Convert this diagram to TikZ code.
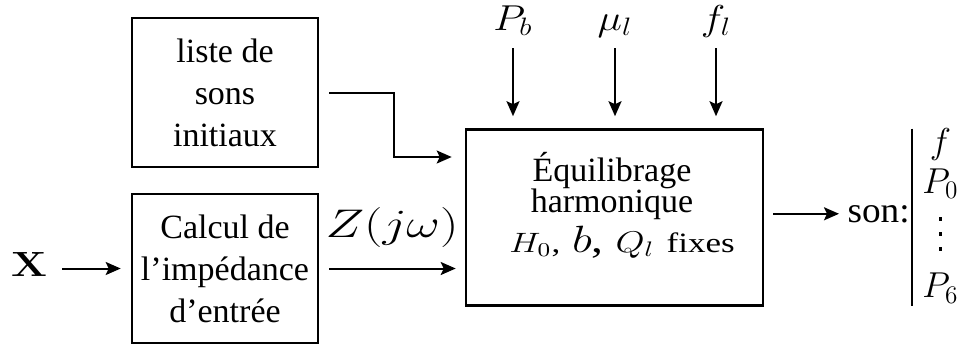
\documentclass[tikz,border=0pt]{standalone}
\usepackage{fix-cm}
\usepackage[no-math]{fontspec}
\setmainfont{Liberation Serif}
\usetikzlibrary{arrows.meta,positioning}

\newcommand\bigvdots{\vbox{\baselineskip7.5pt\lineskiplimit0pt\kern6pt\hbox{\rule{1.9pt}{1.9pt}}\hbox{\rule{1.9pt}{1.9pt}}\hbox{\rule{1.9pt}{1.9pt}}}\rule[-9.5pt]{0pt}{9.5pt}}

\begin{document}
\begin{tikzpicture}[
        x=0.5pt, y=-0.5pt,
        node distance=88pt,
        box/.style={draw, line width=1.3pt, align=center, inner sep=0pt, minimum width=93pt, minimum height=74.5pt, font=\fontsize{17}{21}\selectfont},
        lbl/.style={inner sep=2pt, xscale=1.15, font=\fontsize{18}{20}\selectfont},
        arrow/.style={-{Stealth[length=7.5pt,width=6.5pt,inset=1.5pt]}, line width=1pt}
      ]
        \useasboundingbox (0,0) rectangle (962,350);
        \node[box] (liste) at (225,92.5) {liste de\\ sons\\ initiaux};
        \node[box] (calc)  [below of=liste] {Calcul de\\ l'impédance\\ d'entrée};
        \node[box, minimum width=148.5pt, minimum height=88pt] (eq) at (614.5,217.5) {};
        \node[align=center, font=\fontsize{17}{15.5}\selectfont] (eqtxt) at (612,205.5)
          {Équilibrage\\ harmonique\\[2pt]
           \hspace*{10pt}\scalebox{1.25}[1]{{\fontsize{14}{15}\selectfont$H_0$,}\;{\fontsize{19}{15}\selectfont$b$,}\;{\fontsize{15}{15}\selectfont$Q_l$}\hspace{5pt}{\fontsize{14}{15}\selectfont fixes}}};
        \node[lbl, anchor=base] (pb) at (513,30) {$P_b$};
        \node[lbl, anchor=base] (mu) at (615,30) {$\mu_l$};
        \node[lbl, anchor=base] (fl) at (716,30) {$f_l$};
        \node[lbl, xscale=1.05, font=\fontsize{17.5}{20}\selectfont] (xin) at (29,264.5) {$\mathbf{X}$};
        \node[lbl, xscale=0.9, font=\fontsize{18}{20}\selectfont, anchor=base west] (son) at (843,222) {son:};
        \node[inner sep=0pt, anchor=west, font=\fontsize{18}{20}\selectfont] (vals) at (912,217.5)
          {$\begin{array}{c} f\\ P_0\\ \bigvdots\\ P_6 \end{array}$};
        \foreach \n in {pb,mu,fl}
          \draw[arrow, shorten <=9pt, shorten >=6pt] (\n.base) -- (\n.base |- eq.north);
        \draw[arrow, shorten <=5pt, shorten >=6.5pt] (liste.east) -- ++(75,0) |- ([yshift=30.25pt]eq.west);
        \draw[arrow, shorten <=5pt, shorten >=4.5pt] (calc.east) -- (calc.east -| eq.west)
          node[lbl, midway, above=8pt, xscale=1.13, font=\fontsize{20}{22}\selectfont] (z) {$Z(j\omega)$};
        \draw[arrow, shorten <=5pt, shorten >=5pt] (xin.east |- calc.west) -- (calc.west);
        \draw[arrow, shorten <=4.5pt, shorten >=2pt] (son.west -| eq.east) -- (son.west);
        \draw[line width=1.2pt, shorten <=2pt, shorten >=2pt] (vals.north west) -- (vals.south west);
      \end{tikzpicture}
\end{document}
